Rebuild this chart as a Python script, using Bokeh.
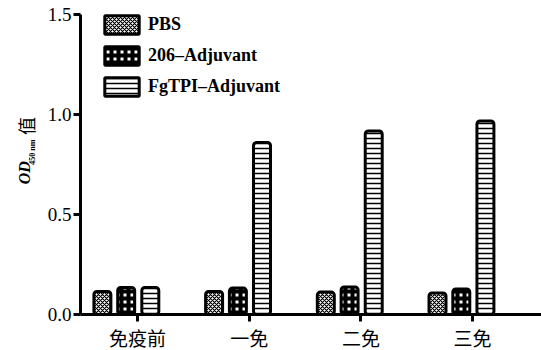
import numpy as np
from bokeh.plotting import figure
from bokeh.layouts import row
from bokeh.models import Range1d, FixedTicker, Label, Legend, LegendItem, ColumnDataSource
from bokeh.transform import dodge
from bokeh.embed import file_html
from bokeh.resources import INLINE

categories = ["免疫前", "一免", "二免", "三免"]
series_names = ["PBS", "206\u2013Adjuvant", "FgTPI\u2013Adjuvant"]
pbs = [0.115, 0.115, 0.112, 0.108]
adj206 = [0.135, 0.132, 0.138, 0.128]
fgtpi = [0.135, 0.86, 0.918, 0.968]
y_ticks = [0.0, 0.5, 1.0, 1.5]
y_tick_labels = ["0.0", "0.5", "1.0", "1.5"]

xpos = list(range(len(categories)))
src = ColumnDataSource(dict(x=xpos, pbs=pbs, a206=adj206, fg=fgtpi))

p = figure(width=501, height=350, frame_width=461, frame_height=300,
           min_border_left=40, min_border_right=0, min_border_top=14, min_border_bottom=36,
           x_range=Range1d(-0.51, 3.617), y_range=Range1d(0, 1.5),
           output_backend="svg", toolbar_location=None)
p.outline_line_color = None
p.xgrid.grid_line_color = None
p.ygrid.grid_line_color = None

bw = 0.152
common = dict(width=bw, line_color="black", line_width=3, border_radius=3, source=src)
r1 = p.vbar(x=dodge("x", -0.314), top="pbs", fill_color="white",
            hatch_pattern="diagonal_cross", hatch_scale=4, hatch_weight=1.2,
            hatch_color="black", **common)
r2 = p.vbar(x=dodge("x", -0.101), top="a206", fill_color="white",
            hatch_pattern="cross", hatch_scale=7, hatch_weight=4,
            hatch_color="black", **common)
r3 = p.vbar(x=dodge("x", 0.115), top="fg", fill_color="white",
            hatch_pattern="horizontal_line", hatch_scale=5, hatch_weight=1.5,
            hatch_color="black", **common)

for ax in (p.xaxis[0], p.yaxis[0]):
    ax.axis_line_width = 3
    ax.major_tick_line_width = 3
    ax.major_tick_out = 7
    ax.major_tick_in = 0
    ax.minor_tick_line_color = None
    ax.major_label_text_color = "black"
    ax.axis_line_color = "black"
    ax.major_tick_line_color = "black"

p.yaxis.ticker = FixedTicker(ticks=y_ticks)
p.yaxis.major_label_overrides = {t: l for t, l in zip(y_ticks, y_tick_labels)}
p.yaxis.major_label_text_font = "Liberation Serif"
p.yaxis.major_label_text_font_size = "19px"
p.yaxis.major_label_standoff = 2

p.xaxis.ticker = FixedTicker(ticks=xpos)
p.xaxis.major_label_overrides = {i: c for i, c in zip(xpos, categories)}
p.xaxis.major_label_text_font = "Noto Sans CJK SC"
p.xaxis.major_label_text_font_size = "19px"
p.xaxis.major_label_standoff = 2

legend = Legend(items=[LegendItem(label=series_names[0], renderers=[r1]),
                       LegendItem(label=series_names[1], renderers=[r2]),
                       LegendItem(label=series_names[2], renderers=[r3])],
                location=(20, 216), glyph_width=43, glyph_height=23, spacing=8,
                label_standoff=5, padding=0, margin=0,
                border_line_color=None, background_fill_alpha=0,
                label_text_font="Liberation Serif", label_text_font_style="bold",
                label_text_font_size="18px", label_text_color="black")
p.add_layout(legend)

# left strip holding the rotated y-axis title (anchored at the start of each text)
q = figure(width=40, height=350, x_range=Range1d(0, 40), y_range=Range1d(0, 350),
           min_border=0, output_backend="svg", toolbar_location=None)
q.axis.visible = False
q.grid.visible = False
q.outline_line_color = None
q.add_layout(Label(x=24, y=150, text="OD", angle=np.pi / 2,
                   text_font="Liberation Serif", text_font_style="bold italic",
                   text_font_size="16px", text_align="left", text_baseline="middle",
                   text_color="black"))
q.add_layout(Label(x=32, y=173, text="450 nm", angle=np.pi / 2,
                   text_font="Liberation Serif", text_font_style="bold",
                   text_font_size="8px", text_align="left", text_baseline="middle",
                   text_color="black"))
q.add_layout(Label(x=25, y=208, text="值", angle=np.pi / 2,
                   text_font="Noto Sans CJK SC", text_font_size="18px",
                   text_align="left", text_baseline="middle", text_color="black"))

layout = row(q, p, spacing=0)
open("out.html", "w").write(file_html(layout, INLINE))
